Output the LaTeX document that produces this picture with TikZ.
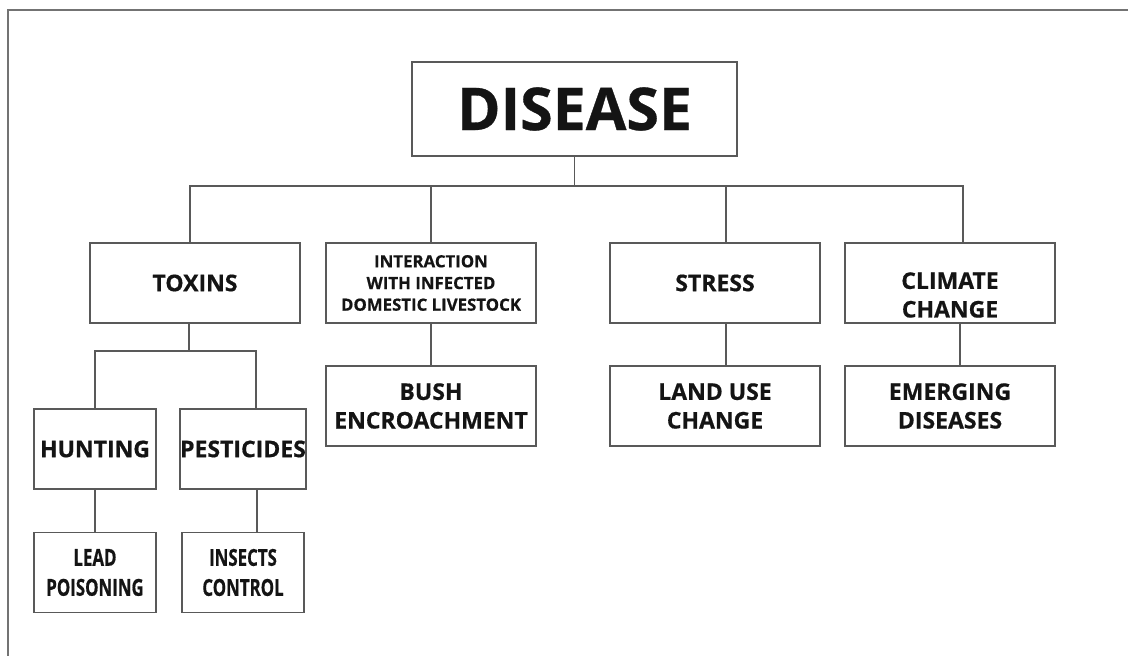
\documentclass[tikz,border=0pt]{standalone}
\usepackage{fontspec}
\setmainfont{Open Sans}[BoldFeatures={FakeBold=0.6}]
\newfontfamily\condfont{Open Sans}[FakeStretch=0.72, BoldFeatures={FakeBold=0.6}]
\usepackage{tikz}
\usetikzlibrary{positioning, calc}

\begin{document}
\begin{tikzpicture}[x=0.5pt, y=-0.5pt,
  box/.style={draw=black!65, line width=0.7pt, rectangle, inner sep=0pt,
    align=center, text=black!92, minimum width=105pt, minimum height=40pt,
    font=\bfseries\fontsize{11.5}{14.3}\selectfont},
  smallbox/.style={box, minimum width=61pt},
  condbox/.style={smallbox, font=\condfont\bfseries\fontsize{11.7}{15}\selectfont},
  link/.style={draw=black!65, line width=0.6pt}]
\path[use as bounding box] (0,0) rectangle (1128,656);

% Frame
\draw[black!55, line width=0.8pt] (8,656) -- (8,10) -- (1128,10);

% Root
\node[box, minimum width=162.5pt, minimum height=47pt,
  font=\bfseries\fontsize{29.5}{35}\selectfont] (disease) at (574.5,109) {DISEASE};

% First level
\node[box] (toxins) at (195,283) {TOXINS};
\node[box, font=\bfseries\fontsize{8.4}{10.85}\selectfont] (interact) at (431,283)
  {INTERACTION\\WITH INFECTED\\DOMESTIC LIVESTOCK};
\node[box] (stress) at (715,283) {STRESS};
\node[box] (climate) at (950,283) {\strut\\[-4pt]CLIMATE\\CHANGE};

% Second level
\node[box] (bush) at (431,406) {BUSH\\ENCROACHMENT};
\node[box] (landuse) at (715,406) {LAND USE\\CHANGE};
\node[box] (emerging) at (950,406) {EMERGING\\DISEASES};

% Toxins branch
\node[smallbox] (hunting) at (95,449) {HUNTING};
\node[smallbox] (pesticides) at (243,449) {PESTICIDES};
\node[condbox] (lead) at (95,572.5) {LEAD\\POISONING};
\node[condbox] (insects) at (243,572.5) {INSECTS\\CONTROL};

% Connectors
\coordinate (hub) at (576,186);
\coordinate (fork) at (189,351);
\draw[link] (disease.south) -- (disease.south |- hub);
\draw[link] ([xshift=-2.5pt]toxins.north) |- (hub) -| ([xshift=6.5pt]climate.north);
\draw[link] (interact.north) -- (interact.north |- hub);
\draw[link] ([xshift=5.5pt]stress.north) -- ([xshift=5.5pt]stress.north |- hub);
\draw[link] (interact) -- (bush);
\draw[link] ([xshift=5.5pt]stress.south) -- ([xshift=5.5pt]landuse.north);
\draw[link] ([xshift=5pt]climate.south) -- ([xshift=5pt]emerging.north);
\draw[link] ([xshift=-3pt]toxins.south) -- ([xshift=-3pt]toxins.south |- fork);
\draw[link] (hunting.north) |- (fork) -| ([xshift=6.5pt]pesticides.north);
\draw[link] (hunting) -- (lead);
\draw[link] ([xshift=7pt]pesticides.south) -- ([xshift=7pt]insects.north);
\end{tikzpicture}
\end{document}
